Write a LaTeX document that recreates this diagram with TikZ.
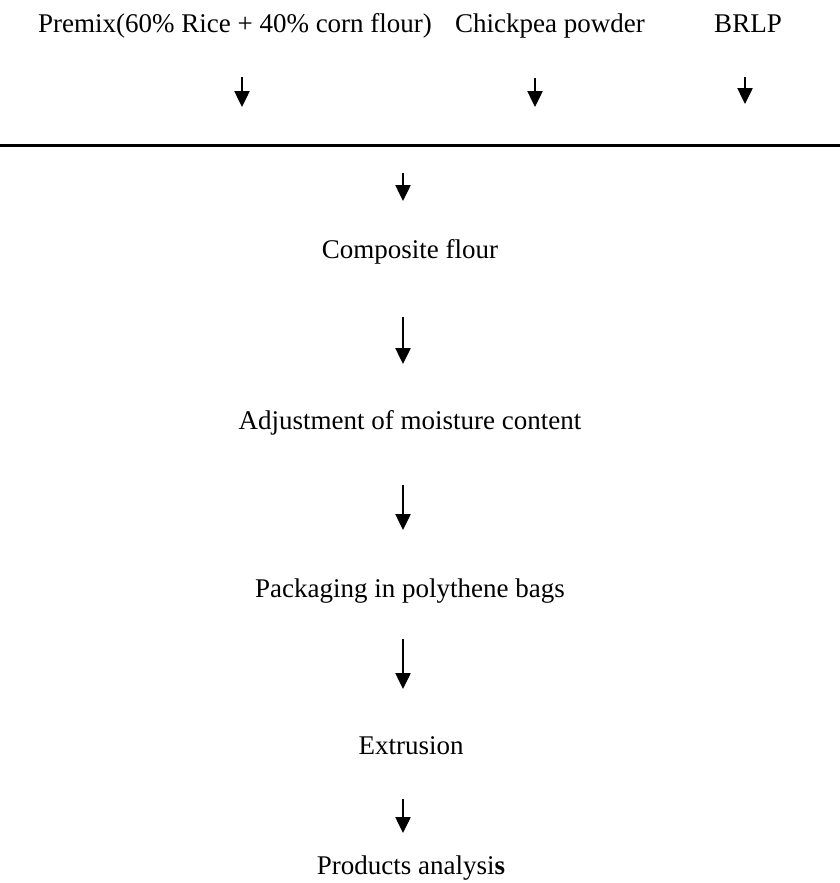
\documentclass[tikz,border=0pt]{standalone}
\usepackage{fontspec}
\setmainfont{Liberation Serif}
\usetikzlibrary{arrows.meta}

\tikzset{
    stage/.style={anchor=base, inner sep=0pt, font=\fontsize{27}{32}\selectfont},
    flow/.style={line width=2.5pt, -{Triangle[width=15pt,length=16pt]}},
}

\begin{document}
\begin{tikzpicture}[x=1pt,y=-1pt]
        \useasboundingbox (0,0) rectangle (840,883);
        \node[stage] (premix) at (235,33) {Premix(60\% Rice + 40\% corn flour)};
        \node[stage] (chickpea) at (550,33) {Chickpea powder};
        \node[stage] (brlp) at (748,33) {BRLP};
        \node[stage] (composite) at (410,258) {Composite flour};
        \node[stage] (moisture) at (410,429) {Adjustment of moisture content};
        \node[stage] (packaging) at (410,597) {Packaging in polythene bags};
        \node[stage] (extrusion) at (411,754) {Extrusion};
        \node[stage] (analysis) at (411,874) {Products analysi\textbf{s}};

        \coordinate (mixL) at (0,145);
        \coordinate (mixR) at (840,145);
        \draw[line width=3pt] (mixL) -- (mixR);

        \foreach \n/\x/\a/\b in {premix/242/77/107, chickpea/535/78/107, brlp/745/77/104,
                                 mix/403/173/201, composite/403/317/364, moisture/403/485/530,
                                 packaging/403/639/689, extrusion/403/799/833}{
            \coordinate (\n-out) at (\x,\a);
            \coordinate (\n-in) at (\x,\b);
            \draw[flow] (\n-out) -- (\n-in);
        }
\end{tikzpicture}
\end{document}
